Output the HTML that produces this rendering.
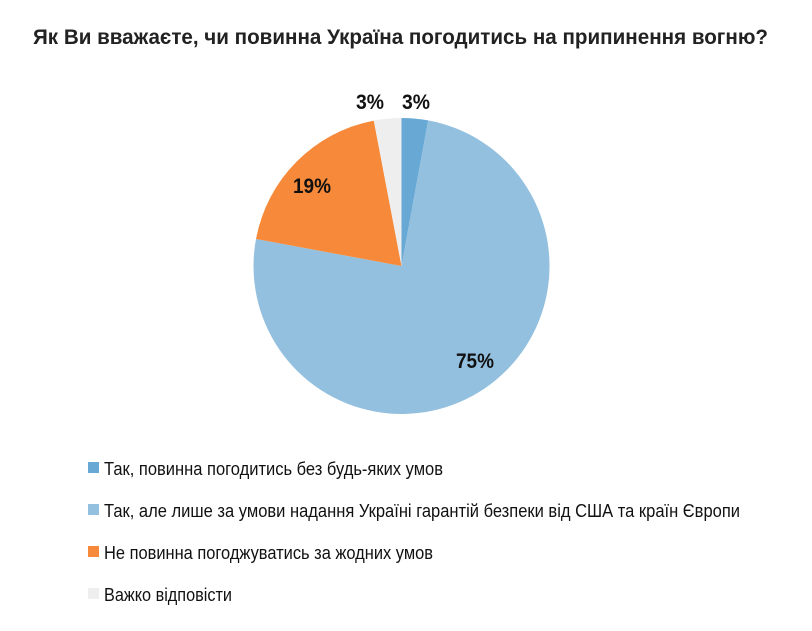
<!DOCTYPE html>
<html><head><meta charset="utf-8"><style>
body{margin:0;background:#fff;}
svg text{font-family:"Liberation Sans",sans-serif;}
</style></head><body>
<svg width="812" height="626" xmlns="http://www.w3.org/2000/svg">
<rect width="812" height="626" fill="#fff"/>
<text x="33" y="44" font-size="21" font-weight="bold" fill="#222" textLength="735" lengthAdjust="spacingAndGlyphs">Як Ви вважаєте, чи повинна Україна погодитись на припинення вогню?</text>
<path d="M401.5,266 L401.5,118 A148,148 0 0 1 428.2,120.4 Z" fill="#67a8d4"/>
<path d="M401.5,266 L428.2,120.4 A148,148 0 1 1 256,239 Z" fill="#93c0df"/>
<path d="M401.5,266 L256,239 A148,148 0 0 1 373.8,120.6 Z" fill="#f68a3a"/>
<path d="M401.5,266 L373.8,120.6 A148,148 0 0 1 401.5,118 Z" fill="#eeeeee"/>
<g font-size="21" font-weight="bold" fill="#111">
<text x="370" y="109" text-anchor="middle" textLength="28" lengthAdjust="spacingAndGlyphs">3%</text>
<text x="416" y="109" text-anchor="middle" textLength="28" lengthAdjust="spacingAndGlyphs">3%</text>
<text x="312" y="193" text-anchor="middle" textLength="38" lengthAdjust="spacingAndGlyphs">19%</text>
<text x="475" y="368" text-anchor="middle" textLength="38" lengthAdjust="spacingAndGlyphs">75%</text>
</g>
<rect x="88" y="462" width="11" height="11" fill="#67a8d4"/>
<rect x="88" y="504" width="11" height="11" fill="#93c0df"/>
<rect x="88" y="546" width="11" height="11" fill="#f68a3a"/>
<rect x="88" y="588" width="11" height="11" fill="#eeeeee"/>
<g font-size="18" fill="#111">
<text x="104" y="475" textLength="339" lengthAdjust="spacingAndGlyphs">Так, повинна погодитись без будь-яких умов</text>
<text x="104" y="517" textLength="636" lengthAdjust="spacingAndGlyphs">Так, але лише за умови надання Україні гарантій безпеки від США та країн Європи</text>
<text x="104" y="559" textLength="329" lengthAdjust="spacingAndGlyphs">Не повинна погоджуватись за жодних умов</text>
<text x="104" y="601" textLength="128" lengthAdjust="spacingAndGlyphs">Важко відповісти</text>
</g>
</svg>
</body></html>
